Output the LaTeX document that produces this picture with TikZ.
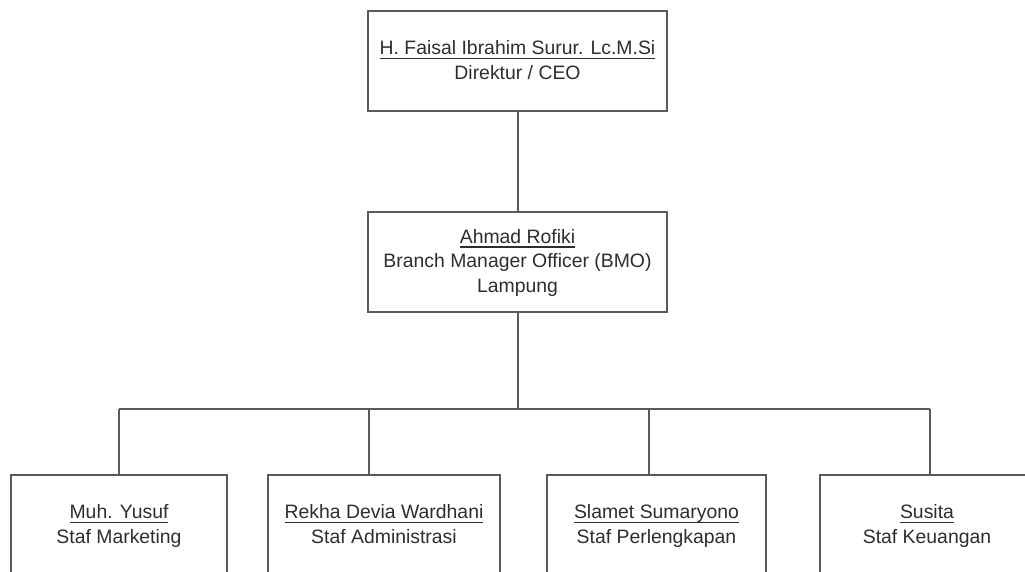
\documentclass[tikz,border=0pt]{standalone}
\usepackage{fontspec}
\setmainfont{Liberation Sans}
\usetikzlibrary{positioning}
\definecolor{mygray}{HTML}{5A5A5A}
\definecolor{mytext}{HTML}{2E2E2E}
% nama bergaris bawah pada kedalaman tetap
\newcommand{\nama}[1]{\vrule height 19pt depth 0pt width 0pt\setbox0=\hbox{#1}\rlap{\vrule height -3.1pt depth 4.5pt width \wd0}\box0}

\begin{document}
\begin{tikzpicture}[
    x=1pt, y=1pt,
    font=\fontsize{19.4}{24.5}\selectfont,
    % Estilos de los nodos
    box/.style={
        rectangle,
        draw=mygray,
        fill=white,
        text=mytext,
        align=center,
        line width=2pt,
        inner sep=0pt,
        minimum height=100pt
    },
    % Estilo de las lineas
    link/.style={draw=mygray, line width=2pt}
]
\clip (0,0) rectangle (1025,572);

% -- Pimpinan --
\node[box, minimum width=299pt] (ceo) at (517.5,511) {\nama{H. Faisal Ibrahim Surur. Lc.M.Si}\\Direktur / CEO\strut};

\node[box, minimum width=299pt, below=99pt of ceo] (bmo) {\nama{Ahmad Rofiki}\\Branch Manager Officer (BMO)\\Lampung\strut};

% -- Staf --
\node[box, minimum width=216pt] (mkt) at (119,47) {\nama{Muh. Yusuf}\\Staf Marketing\strut};
\node[box, minimum width=232pt] (adm) at (384,47) {\nama{Rekha Devia Wardhani}\\Staf Administrasi\strut};
\node[box, minimum width=219pt] (plk) at (656.5,47) {\nama{Slamet Sumaryono}\\Staf Perlengkapan\strut};
\node[box, minimum width=214pt] (keu) at (927,47) {\nama{Susita}\\Staf Keuangan\strut};

% -- Titik cabang --
\coordinate (bus) at (517.5,163);
\coordinate (dmkt) at (119,163);
\coordinate (dadm) at (369,163);
\coordinate (dplk) at (649,163);
\coordinate (dkeu) at (930,163);

% -- Garis hubung --
\draw[link] (ceo) -- (bmo);
\draw[link] (bmo) -- (bus);
\draw[link] (dmkt) -- (dkeu);
\draw[link] (dmkt) -- (dmkt |- mkt.north);
\draw[link] (dadm) -- (dadm |- adm.north);
\draw[link] (dplk) -- (dplk |- plk.north);
\draw[link] (dkeu) -- (dkeu |- keu.north);

\end{tikzpicture}
\end{document}
